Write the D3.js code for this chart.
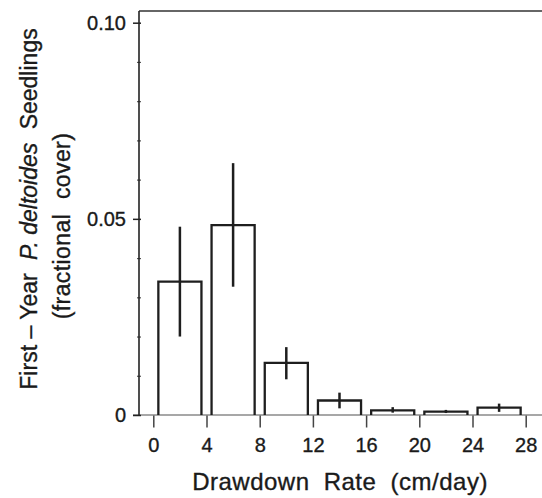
<!DOCTYPE html>
<html>
<head>
<meta charset="utf-8">
<script src="https://cdn.jsdelivr.net/npm/d3@7"></script>
<style>
  body { margin: 0; background: #fff; }
  text { font-family: "Liberation Sans", Arial, sans-serif; fill: #1a1a1a; stroke: #1a1a1a; stroke-width: 0.35px; }
</style>
</head>
<body>
<div id="chart"></div>
<script>
// drawdown rate bins (cm/day), bar centres
var rates = [2, 6, 10, 14, 18, 22, 26]
// mean fractional cover and error bar ends
var cover = [0.0340, 0.0484, 0.0133, 0.0037, 0.0012, 0.00085, 0.0019]
var errHi = [0.0480, 0.0642, 0.0173, 0.0057, 0.0020, 0.0013, 0.0029]
var errLo = [0.0200, 0.0327, 0.0091, 0.0017, 0.0006, 0.0005, 0.0008]

var xTicks = [0, 4, 8, 12, 16, 20, 24, 28]
var yTicks = [0, 0.05, 0.10]
var yTickLabels = ['0', '0.05', '0.10']
var yMinor = [0.01, 0.02, 0.03, 0.04, 0.06, 0.07, 0.08, 0.09]

var W = 542, H = 498
var svg = d3.select('#chart').append('svg').attr('width', W).attr('height', H)

var x = d3.scaleLinear().domain([0, 28]).range([153.3, 525.7])
var y = d3.scaleLinear().domain([0, 0.10]).range([415, 22.7])
var axisX = 139, topY = 11
var half = 1.62 // bar half width in cm/day
var font = '"Liberation Sans", Arial, sans-serif'

// top frame line
svg.append('line')
  .attr('x1', axisX).attr('x2', W).attr('y1', topY).attr('y2', topY)
  .attr('stroke', '#333').attr('stroke-width', 1.5)

// x axis baseline (grey)
svg.append('line')
  .attr('x1', 133).attr('x2', W).attr('y1', y(0)).attr('y2', y(0))
  .attr('stroke', '#8a8a8a').attr('stroke-width', 1.6)

// x axis ticks + labels
var xAxis = d3.axisBottom(x).tickValues(xTicks).tickSize(12).tickPadding(10).tickFormat(d3.format('d'))
var gx = svg.append('g').attr('transform', 'translate(0,' + (y(0) + 0.5) + ')').call(xAxis)
gx.select('.domain').remove()
gx.selectAll('.tick line').attr('stroke', '#444').attr('stroke-width', 1.5)
gx.selectAll('.tick text').attr('font-size', 20).attr('dy', '0.71em').style('font-family', font).attr('fill', '#1a1a1a')

// y axis major ticks
var yAxis = d3.axisLeft(y).tickValues(yTicks).tickSize(6).tickPadding(7)
  .tickFormat(function(d, i){ return yTickLabels[i] })
var gy = svg.append('g').attr('transform', 'translate(' + axisX + ',0)').call(yAxis)
gy.select('.domain').remove()
gy.selectAll('.tick line').attr('x2', -6).attr('x1', 2).attr('stroke', '#222').attr('stroke-width', 1.5)
gy.selectAll('.tick text').attr('font-size', 20).style('font-family', font).attr('fill', '#1a1a1a')

// y minor ticks
var yAxisMinor = d3.axisLeft(y).tickValues(yMinor).tickSize(2).tickFormat('')
var gm = svg.append('g').attr('transform', 'translate(' + axisX + ',0)').call(yAxisMinor)
gm.select('.domain').remove()
gm.selectAll('.tick line').attr('x1', 2).attr('stroke', '#555').attr('stroke-width', 1.2)

// y axis line
svg.append('line')
  .attr('x1', axisX).attr('x2', axisX).attr('y1', topY).attr('y2', y(0))
  .attr('stroke', '#222').attr('stroke-width', 1.6)

// bars (open, three sides)
svg.selectAll('path.bar').data(rates).enter().append('path')
  .attr('class', 'bar')
  .attr('d', function(d, i){
    var x0 = x(d - half), x1 = x(d + half), yt = y(cover[i]), yb = y(0)
    return 'M' + x0 + ',' + yb + 'V' + yt + 'H' + x1 + 'V' + yb
  })
  .attr('fill', 'none').attr('stroke', '#1e1e1e').attr('stroke-width', 2.3)

// error bars
svg.selectAll('line.err').data(rates).enter().append('line')
  .attr('class', 'err')
  .attr('x1', function(d){ return x(d) }).attr('x2', function(d){ return x(d) })
  .attr('y1', function(d, i){ return y(errHi[i]) })
  .attr('y2', function(d, i){ return y(errLo[i]) })
  .attr('stroke', '#1e1e1e').attr('stroke-width', 2.5)

// x axis title
svg.append('text')
  .attr('x', 340).attr('y', 490).attr('text-anchor', 'middle')
  .attr('font-size', 24).style('letter-spacing', '0.5px').style('word-spacing', '7px')
  .text('Drawdown Rate (cm/day)')

// y axis title, two lines
var t1 = svg.append('text')
  .attr('transform', 'translate(37,209) rotate(-90)')
  .attr('text-anchor', 'middle').attr('font-size', 23)
t1.append('tspan').text('First \u2013 Year')
t1.append('tspan').attr('dx', 7).attr('font-style', 'italic').text(' P. deltoides')
t1.append('tspan').attr('dx', 7).text(' Seedlings')

svg.append('text')
  .attr('transform', 'translate(70,226) rotate(-90)')
  .attr('text-anchor', 'middle').attr('font-size', 23)
  .style('letter-spacing', '0.4px').style('word-spacing', '8px')
  .text('(fractional cover)')
</script>
</body>
</html>
